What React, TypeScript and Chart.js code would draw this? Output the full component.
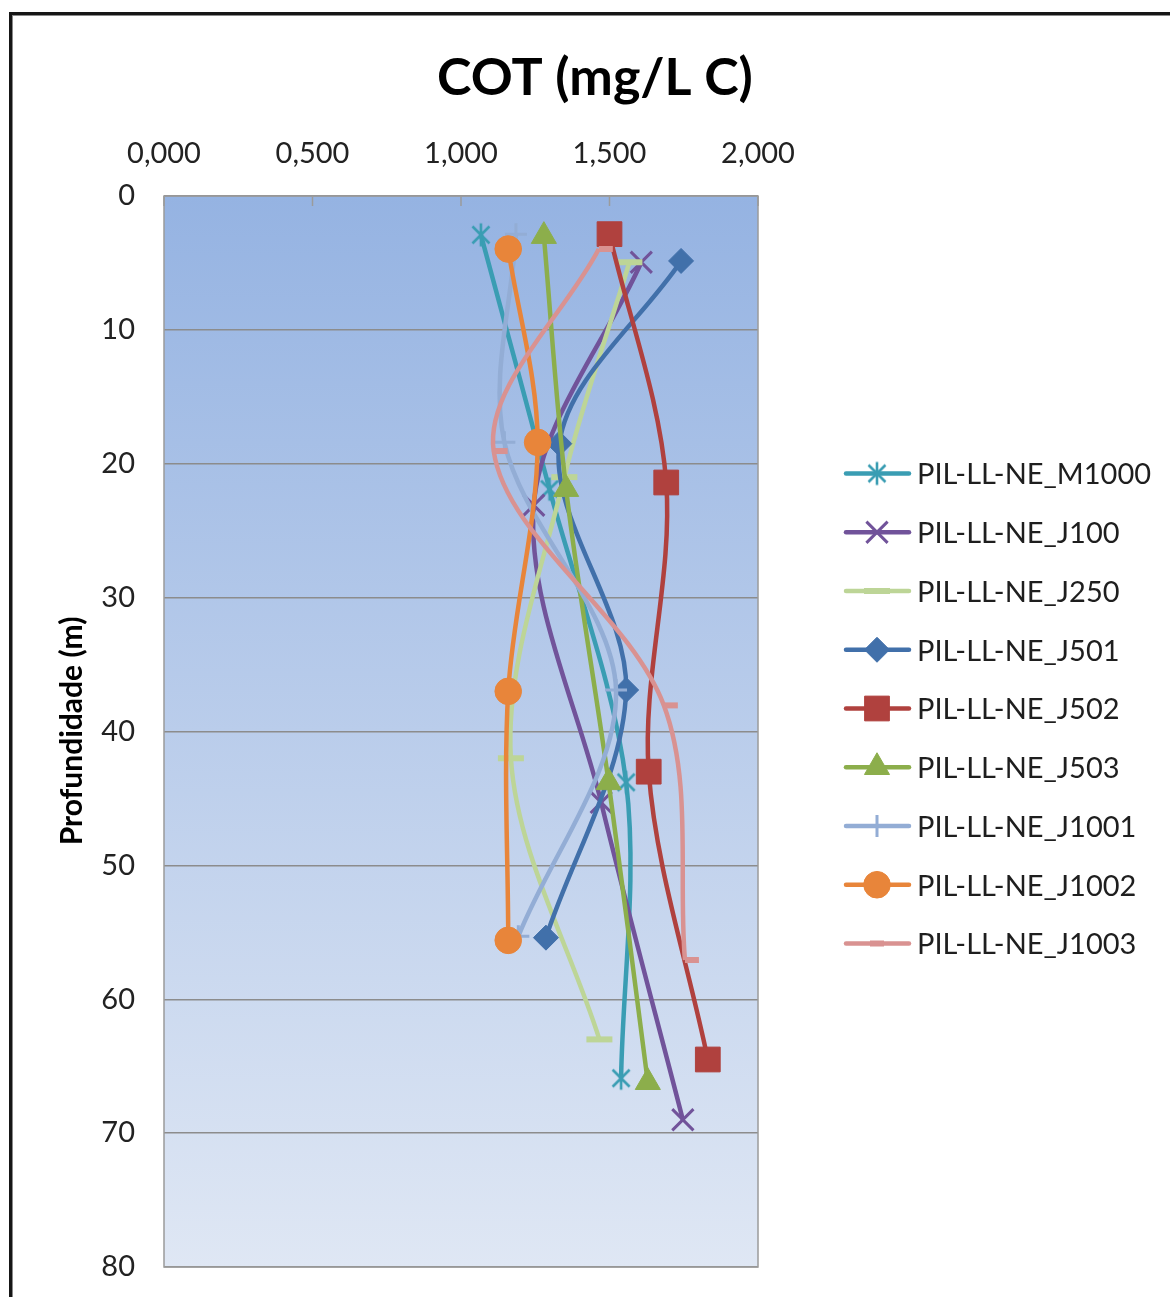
import React, { useEffect, useRef } from 'react';
import { Chart, registerables } from 'chart.js';
import { drawPoint } from 'chart.js/helpers';

Chart.register(...registerables);

// ---- data (COT in mg/L C vs depth in m) ----
const seriesNames = [
  'PIL-LL-NE_M1000',
  'PIL-LL-NE_J100',
  'PIL-LL-NE_J250',
  'PIL-LL-NE_J501',
  'PIL-LL-NE_J502',
  'PIL-LL-NE_J503',
  'PIL-LL-NE_J1001',
  'PIL-LL-NE_J1002',
  'PIL-LL-NE_J1003',
];

const cotM1000 = [1.067, 1.298, 1.556, 1.539];
const depthM1000 = [2.9, 21.9, 43.8, 65.9];

const cotJ100 = [1.607, 1.245, 1.472, 1.747];
const depthJ100 = [4.95, 23.1, 45.3, 69.0];

const cotJ250 = [1.567, 1.348, 1.168, 1.466];
const depthJ250 = [4.95, 21.0, 42.0, 63.0];

const cotJ501 = [1.741, 1.331, 1.556, 1.286];
const depthJ501 = [4.85, 18.5, 36.9, 55.4];

const cotJ502 = [1.5, 1.691, 1.632, 1.831];
const depthJ502 = [2.85, 21.4, 43.0, 64.5];

const cotJ503 = [1.279, 1.354, 1.497, 1.629];
const depthJ503 = [3.0, 21.9, 43.8, 66.2];

const cotJ1001 = [1.185, 1.146, 1.522, 1.193];
const depthJ1001 = [2.85, 18.4, 36.9, 55.3];

const cotJ1002 = [1.159, 1.258, 1.159, 1.159];
const depthJ1002 = [3.96, 18.4, 37.0, 55.6];

const cotJ1003 = [1.464, 1.11, 1.683, 1.754];
const depthJ1003 = [3.96, 19.05, 38.05, 57.07];

const cotSeries = [cotM1000, cotJ100, cotJ250, cotJ501, cotJ502, cotJ503, cotJ1001, cotJ1002, cotJ1003];
const depthSeries = [depthM1000, depthJ100, depthJ250, depthJ501, depthJ502, depthJ503, depthJ1001, depthJ1002, depthJ1003];

const chartTitle = 'COT (mg/L C)';
const yAxisTitle = 'Profundidade (m)';
const xMin = 0;
const xMax = 2;
const xStep = 0.5;
const yMin = 0;
const yMax = 80;
const yStep = 10;

// ---- styles ----
const colors = ['#3a9db3', '#71539a', '#bdd597', '#4170aa', '#b0413e', '#8cae4b', '#93add5', '#e8853a', '#d99291'];

function makeAsterisk(color: string) {
  const c = document.createElement('canvas');
  c.width = 26;
  c.height = 26;
  const g = c.getContext('2d')!;
  g.strokeStyle = color;
  g.lineWidth = 2.6;
  g.lineCap = 'butt';
  g.beginPath();
  g.moveTo(13, 1.5);
  g.lineTo(13, 24.5);
  g.moveTo(4.5, 4.5);
  g.lineTo(21.5, 21.5);
  g.moveTo(21.5, 4.5);
  g.lineTo(4.5, 21.5);
  g.stroke();
  return c;
}

const FONT = 'Lato, "Open Sans", sans-serif';

export default function App() {
  const ref = useRef<HTMLCanvasElement | null>(null);

  useEffect(() => {
    if (!ref.current) return;
    const asterisk = makeAsterisk(colors[0]);
    const pointStyles: any[] = [asterisk, 'crossRot', 'line', 'rectRot', 'rect', 'triangle', 'cross', 'circle', 'dash'];
    const radii = [12, 15, 13, 12.5, 17.5, 14.5, 11, 13.3, 14];
    const pBorder = [2.6, 3, 6, 1, 1, 1, 3, 1, 6];

    const datasets = seriesNames.map((name, i) => ({
      label: name,
      data: cotSeries[i].map((v, k) => ({ x: v, y: depthSeries[i][k] })),
      showLine: true,
      borderColor: colors[i],
      backgroundColor: colors[i],
      borderWidth: 4.5,
      tension: 0.33,
      pointStyle: pointStyles[i],
      pointRadius: radii[i],
      pointHoverRadius: radii[i],
      pointBorderWidth: pBorder[i],
      pointBorderColor: colors[i],
      pointBackgroundColor: colors[i],
      order: -i,
      clip: false as any,
    }));

    const decor = {
      id: 'decor',
      beforeDraw(chart: any) {
        const { ctx, chartArea: a } = chart;
        ctx.save();
        const g = ctx.createLinearGradient(0, a.top, 0, a.bottom);
        g.addColorStop(0, '#95b3e2');
        g.addColorStop(1, '#dfe7f4');
        ctx.fillStyle = g;
        ctx.fillRect(a.left, a.top, a.right - a.left, a.bottom - a.top);
        ctx.restore();
      },
      beforeDatasetsDraw(chart: any) {
        const { ctx, chartArea: a } = chart;
        ctx.save();
        ctx.strokeStyle = '#9b9b9b';
        ctx.lineWidth = 1.5;
        ctx.strokeRect(a.left, a.top, a.right - a.left, a.bottom - a.top);
        const xs = chart.scales.x;
        ctx.beginPath();
        xs.ticks.forEach((t: any) => {
          const px = xs.getPixelForValue(t.value);
          ctx.moveTo(px, a.top);
          ctx.lineTo(px, a.top + 10);
        });
        ctx.stroke();
        ctx.restore();
      },
      afterDraw(chart: any) {
        const { ctx } = chart;
        ctx.save();
        // title
        ctx.fillStyle = '#000';
        ctx.font = `bold 52px ${FONT}`;
        ctx.textAlign = 'center';
        ctx.textBaseline = 'alphabetic';
        ctx.fillText(chartTitle, 595, 95);
        // y-axis title
        ctx.save();
        ctx.translate(82, 731);
        ctx.rotate(-Math.PI / 2);
        ctx.font = `bold 30px ${FONT}`;
        ctx.fillText(yAxisTitle, 0, 0);
        ctx.restore();
        // legend
        chart.data.datasets.forEach((ds: any, i: number) => {
          const y = 473.5 + i * 58.75;
          ctx.strokeStyle = ds.borderColor;
          ctx.lineWidth = 4.5;
          ctx.lineCap = 'round';
          ctx.beginPath();
          ctx.moveTo(846, y);
          ctx.lineTo(909, y);
          ctx.stroke();
          ctx.lineCap = 'butt';
          ctx.fillStyle = ds.pointBackgroundColor;
          ctx.strokeStyle = ds.pointBorderColor;
          ctx.lineWidth = ds.pointBorderWidth;
          const ps = ds.pointStyle === 'dash' ? 'line' : ds.pointStyle;
          const r = ds.pointStyle === 'dash' ? 7 : ds.pointRadius;
          drawPoint(ctx, { pointStyle: ps, radius: r, rotation: 0, borderWidth: ds.pointBorderWidth } as any, 877, y);
          ctx.fillStyle = '#1e1e1e';
          ctx.font = `29px ${FONT}`;
          ctx.textAlign = 'left';
          ctx.textBaseline = 'alphabetic';
          ctx.fillText(ds.label, 917, y + 10.8);
        });
        ctx.restore();
      },
    };

    const chart = new Chart(ref.current, {
      type: 'scatter',
      data: { datasets: datasets as any },
      options: {
        responsive: false,
        animation: false,
        layout: { padding: { left: 0, top: 0, right: 412, bottom: 30 } },
        plugins: { legend: { display: false }, title: { display: false }, tooltip: { enabled: false } },
        scales: {
          x: {
            type: 'linear',
            position: 'top',
            min: xMin,
            max: xMax,
            ticks: {
              stepSize: xStep,
              padding: 25,
              color: '#222',
              font: { family: FONT, size: 29 },
              callback: (v: any) => Number(v).toFixed(3).replace('.', ','),
            },
            grid: { display: false, drawTicks: false },
            border: { display: false },
            afterFit: (s: any) => {
              s.height = 196;
            },
          },
          y: {
            type: 'linear',
            reverse: true,
            min: yMin,
            max: yMax,
            ticks: {
              stepSize: yStep,
              padding: 29,
              color: '#222',
              font: { family: FONT, size: 29 },
            },
            grid: { color: '#8c8c8c', lineWidth: 1.4, drawTicks: false },
            border: { display: false },
            afterFit: (s: any) => {
              s.width = 164;
              s.paddingTop = 0;
              s.paddingBottom = 0;
            },
          },
        },
      } as any,
      plugins: [decor],
    });
    return () => chart.destroy();
  }, []);

  return (
    <div style={{ position: 'fixed', left: 0, top: 0, width: 1170, height: 1297, overflow: 'hidden', background: '#fff' }}>
      <div
        style={{
          position: 'absolute',
          left: 9,
          top: 12,
          width: 1300,
          height: 1400,
          border: '3px solid #161616',
          boxShadow: 'inset 1px 1px 0 #8a8a8a',
          boxSizing: 'border-box',
        }}
      />
      <canvas ref={ref} width={1170} height={1297} style={{ position: 'absolute', left: 0, top: 0, width: 1170, height: 1297 }} />
    </div>
  );
}
